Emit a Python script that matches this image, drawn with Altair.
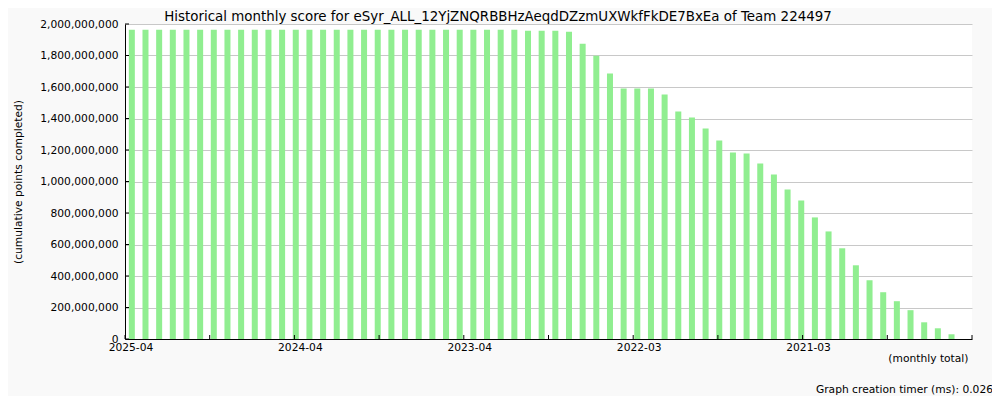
import altair as alt
import pandas as pd

# Month categories (index 0 = most recent month, going back in time)
months = [
    "2025-04", "2025-03", "2025-02", "2025-01", "2024-12", "2024-11", "2024-10", "2024-09",
    "2024-08", "2024-07", "2024-06", "2024-05", "2024-04", "2024-03", "2024-02", "2024-01",
    "2023-12", "2023-11", "2023-10", "2023-09", "2023-08", "2023-07", "2023-06", "2023-05",
    "2023-04", "2023-03", "2023-02", "2023-01", "2022-12", "2022-11", "2022-10", "2022-09",
    "2022-08", "2022-07", "2022-06", "2022-05", "2022-04", "2022-03", "2022-02", "2022-01",
    "2021-12", "2021-11", "2021-10", "2021-09", "2021-08", "2021-07", "2021-06", "2021-05",
    "2021-04", "2021-03", "2021-02", "2021-01", "2020-12", "2020-11", "2020-10", "2020-09",
    "2020-08", "2020-07", "2020-06", "2020-05", "2020-04", "2020-03",
]

# Cumulative points completed
scores = [
    1964000000, 1964000000, 1964000000, 1964000000, 1964000000, 1964000000, 1964000000, 1964000000,
    1964000000, 1964000000, 1964000000, 1964000000, 1964000000, 1964000000, 1964000000, 1964000000,
    1964000000, 1964000000, 1964000000, 1964000000, 1964000000, 1964000000, 1964000000, 1964000000,
    1964000000, 1964000000, 1964000000, 1964000000, 1964000000, 1957000000, 1957000000, 1957000000,
    1951000000, 1875000000, 1799000000, 1685000000, 1590000000, 1590000000, 1590000000, 1552000000,
    1444000000, 1406000000, 1336000000, 1260000000, 1184000000, 1178000000, 1114000000, 1045000000,
    950000000, 880000000, 772000000, 683000000, 576000000, 468000000, 373000000, 297000000,
    240000000, 183000000, 106000000, 68000000, 30000000, 0,
]

# axis label positions (in month-slot units, slightly right of the tick as in the original)
x_label_values = [0.4, 12.8, 25.2, 37.6, 50.0]
x_tick_values = [0, 6.2, 12.4, 18.6, 24.8, 31.0, 37.2, 43.4, 49.6, 55.8, 62.0]
y_tick_values = [0, 200000000, 400000000, 600000000, 800000000, 1000000000,
                 1200000000, 1400000000, 1600000000, 1800000000, 2000000000]

title_text = "Historical monthly score for eSyr_ALL_12YjZNQRBBHzAeqdDZzmUXWkfFkDE7BxEa of Team 224497"
FONT = "DejaVu Sans"

df = pd.DataFrame({"idx": list(range(len(months))), "month": months, "score": scores})
ticks_x = pd.DataFrame({"t": x_tick_values})
ticks_y = pd.DataFrame({"v": y_tick_values})
note_df = pd.DataFrame({"txt": ["Graph creation timer (ms): 0.026"]})
title_df = pd.DataFrame({"txt": [title_text]})

xscale = alt.Scale(domain=[0, len(months)], nice=False, zero=False)
yscale = alt.Scale(domain=[0, 2000000000], nice=False)

month_array = "[" + ",".join("'" + m + "'" for m in months) + "]"

xaxis = alt.Axis(
    values=x_label_values,
    labelExpr=month_array + "[floor(datum.value - 0.4 + 0.001)]",
    grid=False, ticks=False, labelFlush=False, labelOverlap=False,
    labelFont=FONT, labelFontSize=10.7, labelColor="black", labelPadding=3,
    domainColor="black", domainWidth=1,
    title="(monthly total)", titleFont=FONT, titleFontSize=10.7, titleFontWeight="normal",
    titleColor="black", titleX=843, titleY=19, titleAlign="right", titleBaseline="middle",
)

yaxis = alt.Axis(
    values=y_tick_values,
    labelExpr="format(datum.value, ',')",
    grid=True, gridColor="#c8c8c8", gridWidth=1, ticks=False,
    labelFont=FONT, labelFontSize=10.7, labelColor="black", labelPadding=7,
    labelOverlap=False, labelFlush=False,
    domainColor="black", domainWidth=1,
    title="(cumulative points completed)", titleFont=FONT, titleFontSize=10.7,
    titleFontWeight="normal", titleColor="black", titleX=-107, titleY=157.5,
    titleAlign="center", titleBaseline="middle", titleAngle=-90,
)

bars = alt.Chart(df).transform_calculate(
    x0="datum.idx + 0.28", x1="datum.idx + 0.72"
).mark_rect(color="#90ee90").encode(
    x=alt.X("x0:Q", scale=xscale, axis=xaxis),
    x2="x1:Q",
    y=alt.Y("score:Q", scale=yscale, axis=yaxis),
    y2=alt.datum(0),
)

xt = alt.Chart(ticks_x).mark_rule(color="black", strokeWidth=1).encode(
    x=alt.X("t:Q", scale=xscale, axis=xaxis),
    y=alt.value(311), y2=alt.value(315),
)

yt = alt.Chart(ticks_y).mark_rule(color="black", strokeWidth=1).encode(
    y=alt.Y("v:Q", scale=yscale, axis=yaxis),
    x=alt.value(0), x2=alt.value(4),
)

note = alt.Chart(note_df).mark_text(
    font=FONT, fontSize=10.7, color="black", align="right", baseline="bottom"
).encode(text="txt:N", x=alt.value(868), y=alt.value(371))

title = alt.Chart(title_df).mark_text(
    font=FONT, fontSize=13.4, color="black", align="center", baseline="alphabetic"
).encode(text="txt:N", x=alt.value(373), y=alt.value(-3.5))

chart = alt.layer(bars, xt, yt, note, title).properties(
    width=847, height=315,
    autosize=alt.AutoSizeParams(type="none"),
    padding={"left": 117, "top": 16, "right": 20, "bottom": 57},
    background="#f9f9f9",
).configure_view(stroke=None, fill="white")

chart.save("out.html", embed_options={"renderer": "svg", "actions": False})
